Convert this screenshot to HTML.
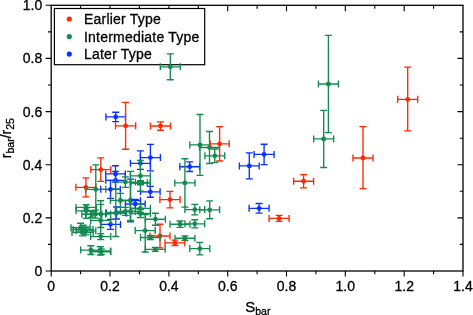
<!DOCTYPE html>
<html><head><meta charset="utf-8"><title>chart</title>
<style>
html,body{margin:0;padding:0;background:#fff;}
body{width:473px;height:315px;overflow:hidden;}
svg{display:block;will-change:transform;}
svg text{font-family:"Liberation Sans",sans-serif;font-size:14px;fill:#000;stroke:#000;stroke-width:0.3px;}
svg .lg text{letter-spacing:0.22px;}
</style></head><body>
<svg width="473" height="315" viewBox="0 0 473 315">
<rect width="473" height="315" fill="#fff"/>
<rect x="51.2" y="5.3" width="411.8" height="265.7" fill="none" stroke="#000" stroke-width="1.3"/>
<path d="M51.2 271.0v5.6M80.6 271.0v3.2M80.6 5.3v3.5M110.0 271.0v5.6M110.0 5.3v6.0M139.4 271.0v3.2M139.4 5.3v3.5M168.9 271.0v5.6M168.9 5.3v6.0M198.3 271.0v3.2M198.3 5.3v3.5M227.7 271.0v5.6M227.7 5.3v6.0M257.1 271.0v3.2M257.1 5.3v3.5M286.5 271.0v5.6M286.5 5.3v6.0M315.9 271.0v3.2M315.9 5.3v3.5M345.3 271.0v5.6M345.3 5.3v6.0M374.8 271.0v3.2M374.8 5.3v3.5M404.2 271.0v5.6M404.2 5.3v6.0M433.6 271.0v3.2M433.6 5.3v3.5M463.0 271.0v5.6M51.2 271.0h-5.6M51.2 244.4h-3.2M463.0 244.4h-3.2M51.2 217.9h-5.6M463.0 217.9h-5.6M51.2 191.3h-3.2M463.0 191.3h-3.2M51.2 164.7h-5.6M463.0 164.7h-5.6M51.2 138.2h-3.2M463.0 138.2h-3.2M51.2 111.6h-5.6M463.0 111.6h-5.6M51.2 85.0h-3.2M463.0 85.0h-3.2M51.2 58.4h-5.6M463.0 58.4h-5.6M51.2 31.9h-3.2M463.0 31.9h-3.2M51.2 5.3h-5.6" stroke="#000" stroke-width="1.1" fill="none"/>
<text x="51.2" y="290.8" text-anchor="middle">0</text>
<text x="110.0" y="290.8" text-anchor="middle">0.2</text>
<text x="168.9" y="290.8" text-anchor="middle">0.4</text>
<text x="227.7" y="290.8" text-anchor="middle">0.6</text>
<text x="286.5" y="290.8" text-anchor="middle">0.8</text>
<text x="345.3" y="290.8" text-anchor="middle">1.0</text>
<text x="404.2" y="290.8" text-anchor="middle">1.2</text>
<text x="463.0" y="290.8" text-anchor="middle">1.4</text>
<text x="42.3" y="276.0" text-anchor="end">0</text>
<text x="42.3" y="222.9" text-anchor="end">0.2</text>
<text x="42.3" y="169.7" text-anchor="end">0.4</text>
<text x="42.3" y="116.6" text-anchor="end">0.6</text>
<text x="42.3" y="63.4" text-anchor="end">0.8</text>
<text x="42.3" y="10.3" text-anchor="end">1.0</text>
<rect x="54.4" y="8.5" width="150.3" height="56.2" fill="#fff" stroke="#000" stroke-width="1.2"/>
<circle cx="69.3" cy="19.0" r="2.6" fill="#ff2800"/><circle cx="69.3" cy="36.6" r="2.6" fill="#128a50"/><circle cx="69.3" cy="54.1" r="2.6" fill="#0a32ff"/>
<g class="lg"><text x="84.0" y="23.8">Earlier Type</text><text x="84.0" y="41.6">Intermediate Type</text><text x="84.0" y="59.4">Later Type</text></g>
<g stroke="#ff2800" fill="#ff2800"><path d="M90.8 169.6H110.8M100.8 157.9V181.3M90.8 166.1V173.1M110.8 166.1V173.1M97.3 157.9H104.3M97.3 181.3H104.3" fill="none" stroke-width="1.35"/><circle cx="100.8" cy="169.6" r="2.4" stroke="none"/></g>
<g stroke="#ff2800" fill="#ff2800"><path d="M75.9 187.3H95.9M85.9 177.8V196.8M75.9 183.8V190.8M95.9 183.8V190.8M82.4 177.8H89.4M82.4 196.8H89.4" fill="none" stroke-width="1.35"/><circle cx="85.9" cy="187.3" r="2.4" stroke="none"/></g>
<g stroke="#ff2800" fill="#ff2800"><path d="M150.0 236.0H170.0M160.0 224.2V247.8M150.0 232.5V239.5M170.0 232.5V239.5M156.5 224.2H163.5M156.5 247.8H163.5" fill="none" stroke-width="1.35"/><circle cx="160.0" cy="236.0" r="2.4" stroke="none"/></g>
<g stroke="#0a32ff" fill="#0a32ff"><path d="M105.9 116.9H125.5M115.7 112.2V121.6M105.9 113.4V120.4M125.5 113.4V120.4M112.2 112.2H119.2M112.2 121.6H119.2" fill="none" stroke-width="1.35"/><circle cx="115.7" cy="116.9" r="2.4" stroke="none"/></g>
<g stroke="#0a32ff" fill="#0a32ff"><path d="M140.4 157.6H160.4M150.4 144.4V170.8M140.4 154.1V161.1M160.4 154.1V161.1M146.9 144.4H153.9M146.9 170.8H153.9" fill="none" stroke-width="1.35"/><circle cx="150.4" cy="157.6" r="2.4" stroke="none"/></g>
<g stroke="#0a32ff" fill="#0a32ff"><path d="M130.4 163.3H150.4M140.4 150.8V169.3M130.4 159.8V166.8M150.4 159.8V166.8M136.9 150.8H143.9M136.9 169.3H143.9" fill="none" stroke-width="1.35"/><circle cx="140.4" cy="163.3" r="2.4" stroke="none"/></g>
<g stroke="#0a32ff" fill="#0a32ff"><path d="M105.7 173.9H125.3M115.5 165.7V182.1M105.7 170.4V177.4M125.3 170.4V177.4M112.0 165.7H119.0M112.0 182.1H119.0" fill="none" stroke-width="1.35"/><circle cx="115.5" cy="173.9" r="2.4" stroke="none"/></g>
<g stroke="#0a32ff" fill="#0a32ff"><path d="M105.8 180.3H125.4M115.6 171.4V189.2M105.8 176.8V183.8M125.4 176.8V183.8M112.1 171.4H119.1M112.1 189.2H119.1" fill="none" stroke-width="1.35"/><circle cx="115.6" cy="180.3" r="2.4" stroke="none"/></g>
<g stroke="#0a32ff" fill="#0a32ff"><path d="M100.7 189.3H120.3M110.5 180.3V198.3M100.7 185.8V192.8M120.3 185.8V192.8M107.0 180.3H114.0M107.0 198.3H114.0" fill="none" stroke-width="1.35"/><circle cx="110.5" cy="189.3" r="2.4" stroke="none"/></g>
<g stroke="#0a32ff" fill="#0a32ff"><path d="M140.5 191.8H160.1M150.3 186.4V197.2M140.5 188.3V195.3M160.1 188.3V195.3M146.8 186.4H153.8M146.8 197.2H153.8" fill="none" stroke-width="1.35"/><circle cx="150.3" cy="191.8" r="2.4" stroke="none"/></g>
<g stroke="#0a32ff" fill="#0a32ff"><path d="M125.4 204.0H145.2M135.3 199.5V208.5M125.4 200.5V207.5M145.2 200.5V207.5M131.8 199.5H138.8M131.8 208.5H138.8" fill="none" stroke-width="1.35"/><circle cx="135.3" cy="204.0" r="2.4" stroke="none"/></g>
<g stroke="#0a32ff" fill="#0a32ff"><path d="M120.5 200.5H140.5M130.5 179.1V221.9M120.5 197.0V204.0M140.5 197.0V204.0M127.0 179.1H134.0M127.0 221.9H134.0" fill="none" stroke-width="1.35"/><circle cx="130.5" cy="200.5" r="2.4" stroke="none"/></g>
<g stroke="#0a32ff" fill="#0a32ff"><path d="M100.5 224.4H120.5M110.5 219.4V229.4M100.5 220.9V227.9M120.5 220.9V227.9M107.0 219.4H114.0M107.0 229.4H114.0" fill="none" stroke-width="1.35"/><circle cx="110.5" cy="224.4" r="2.4" stroke="none"/></g>
<g stroke="#0a32ff" fill="#0a32ff"><path d="M106.5 213.0H126.5M116.5 207.0V219.0M106.5 209.5V216.5M126.5 209.5V216.5M113.0 207.0H120.0M113.0 219.0H120.0" fill="none" stroke-width="1.35"/><circle cx="116.5" cy="213.0" r="2.4" stroke="none"/></g>
<g stroke="#0a32ff" fill="#0a32ff"><path d="M179.8 166.7H199.6M189.7 161.9V171.5M179.8 163.2V170.2M199.6 163.2V170.2M186.2 161.9H193.2M186.2 171.5H193.2" fill="none" stroke-width="1.35"/><circle cx="189.7" cy="166.7" r="2.4" stroke="none"/></g>
<g stroke="#0a32ff" fill="#0a32ff"><path d="M254.1 154.4H274.1M264.1 144.2V164.6M254.1 150.9V157.9M274.1 150.9V157.9M260.6 144.2H267.6M260.6 164.6H267.6" fill="none" stroke-width="1.35"/><circle cx="264.1" cy="154.4" r="2.4" stroke="none"/></g>
<g stroke="#0a32ff" fill="#0a32ff"><path d="M239.4 165.9H259.2M249.3 152.9V178.9M239.4 162.4V169.4M259.2 162.4V169.4M245.8 152.9H252.8M245.8 178.9H252.8" fill="none" stroke-width="1.35"/><circle cx="249.3" cy="165.9" r="2.4" stroke="none"/></g>
<g stroke="#0a32ff" fill="#0a32ff"><path d="M249.1 208.3H269.1M259.1 203.5V213.1M249.1 204.8V211.8M269.1 204.8V211.8M255.6 203.5H262.6M255.6 213.1H262.6" fill="none" stroke-width="1.35"/><circle cx="259.1" cy="208.3" r="2.4" stroke="none"/></g>
<g stroke="#128a50" fill="#128a50"><path d="M160.3 66.8H180.3M170.3 53.9V79.7M160.3 63.3V70.3M180.3 63.3V70.3M166.8 53.9H173.8M166.8 79.7H173.8" fill="none" stroke-width="1.35"/><circle cx="170.3" cy="66.8" r="2.4" stroke="none"/></g>
<g stroke="#128a50" fill="#128a50"><path d="M318.4 84.0H338.4M328.4 35.4V132.6M318.4 80.5V87.5M338.4 80.5V87.5M324.9 35.4H331.9M324.9 132.6H331.9" fill="none" stroke-width="1.35"/><circle cx="328.4" cy="84.0" r="2.4" stroke="none"/></g>
<g stroke="#128a50" fill="#128a50"><path d="M313.7 138.9H333.7M323.7 110.3V167.5M313.7 135.4V142.4M333.7 135.4V142.4M320.2 110.3H327.2M320.2 167.5H327.2" fill="none" stroke-width="1.35"/><circle cx="323.7" cy="138.9" r="2.4" stroke="none"/></g>
<g stroke="#128a50" fill="#128a50"><path d="M189.8 144.9H210.2M200.0 114.5V175.3M189.8 141.4V148.4M210.2 141.4V148.4M196.5 114.5H203.5M196.5 175.3H203.5" fill="none" stroke-width="1.35"/><circle cx="200.0" cy="144.9" r="2.4" stroke="none"/></g>
<g stroke="#128a50" fill="#128a50"><path d="M199.6 147.5H219.4M209.5 131.5V163.5M199.6 144.0V151.0M219.4 144.0V151.0M206.0 131.5H213.0M206.0 163.5H213.0" fill="none" stroke-width="1.35"/><circle cx="209.5" cy="147.5" r="2.4" stroke="none"/></g>
<g stroke="#128a50" fill="#128a50"><path d="M204.9 155.8H224.7M214.8 149.0V162.6M204.9 152.3V159.3M224.7 152.3V159.3M211.3 149.0H218.3M211.3 162.6H218.3" fill="none" stroke-width="1.35"/><circle cx="214.8" cy="155.8" r="2.4" stroke="none"/></g>
<g stroke="#128a50" fill="#128a50"><path d="M174.8 182.9H195.0M184.9 158.7V207.1M174.8 179.4V186.4M195.0 179.4V186.4M181.4 158.7H188.4M181.4 207.1H188.4" fill="none" stroke-width="1.35"/><circle cx="184.9" cy="182.9" r="2.4" stroke="none"/></g>
<g stroke="#128a50" fill="#128a50"><path d="M85.8 189.3H105.8M95.8 164.8V213.8M85.8 185.8V192.8M105.8 185.8V192.8M92.3 164.8H99.3M92.3 213.8H99.3" fill="none" stroke-width="1.35"/><circle cx="95.8" cy="189.3" r="2.4" stroke="none"/></g>
<g stroke="#128a50" fill="#128a50"><path d="M115.4 182.1H135.4M125.4 176.9V187.3M115.4 178.6V185.6M135.4 178.6V185.6M121.9 176.9H128.9M121.9 187.3H128.9" fill="none" stroke-width="1.35"/><circle cx="125.4" cy="182.1" r="2.4" stroke="none"/></g>
<g stroke="#128a50" fill="#128a50"><path d="M130.4 175.8H150.4M140.4 160.4V191.2M130.4 172.3V179.3M150.4 172.3V179.3M136.9 160.4H143.9M136.9 191.2H143.9" fill="none" stroke-width="1.35"/><circle cx="140.4" cy="175.8" r="2.4" stroke="none"/></g>
<g stroke="#128a50" fill="#128a50"><path d="M130.5 182.7H150.3M140.4 180.7V184.7M130.5 179.2V186.2M150.3 179.2V186.2M136.9 180.7H143.9M136.9 184.7H143.9" fill="none" stroke-width="1.35"/><circle cx="140.4" cy="182.7" r="2.4" stroke="none"/></g>
<g stroke="#128a50" fill="#128a50"><path d="M130.5 182.7H147.3M138.9 182.7V182.7M130.5 179.2V186.2M147.3 179.2V186.2M135.4 182.7H142.4M135.4 182.7H142.4" fill="none" stroke-width="1.35"/><circle cx="138.9" cy="182.7" r="2.4" stroke="none"/></g>
<g stroke="#128a50" fill="#128a50"><path d="M130.5 182.7H150.3M141.9 182.7V182.7M130.5 179.2V186.2M150.3 179.2V186.2M138.4 182.7H145.4M138.4 182.7H145.4" fill="none" stroke-width="1.35"/><circle cx="141.9" cy="182.7" r="2.4" stroke="none"/></g>
<g stroke="#128a50" fill="#128a50"><path d="M110.4 200.4H130.4M120.4 193.4V207.4M110.4 196.9V203.9M130.4 196.9V203.9M116.9 193.4H123.9M116.9 207.4H123.9" fill="none" stroke-width="1.35"/><circle cx="120.4" cy="200.4" r="2.4" stroke="none"/></g>
<g stroke="#128a50" fill="#128a50"><path d="M120.5 211.4H140.5M130.5 171.4V220.3M120.5 207.9V214.9M140.5 207.9V214.9M127.0 171.4H134.0M127.0 220.3H134.0" fill="none" stroke-width="1.35"/><circle cx="130.5" cy="211.4" r="2.4" stroke="none"/></g>
<g stroke="#128a50" fill="#128a50"><path d="M115.4 211.4H135.4M125.4 207.4V215.4M115.4 207.9V214.9M135.4 207.9V214.9M121.9 207.4H128.9M121.9 215.4H128.9" fill="none" stroke-width="1.35"/><circle cx="125.4" cy="211.4" r="2.4" stroke="none"/></g>
<g stroke="#128a50" fill="#128a50"><path d="M130.4 208.3H150.4M140.4 204.3V212.3M130.4 204.8V211.8M150.4 204.8V211.8M136.9 204.3H143.9M136.9 212.3H143.9" fill="none" stroke-width="1.35"/><circle cx="140.4" cy="208.3" r="2.4" stroke="none"/></g>
<g stroke="#128a50" fill="#128a50"><path d="M130.4 213.5H150.4M140.4 209.5V217.5M130.4 210.0V217.0M150.4 210.0V217.0M136.9 209.5H143.9M136.9 217.5H143.9" fill="none" stroke-width="1.35"/><circle cx="140.4" cy="213.5" r="2.4" stroke="none"/></g>
<g stroke="#128a50" fill="#128a50"><path d="M105.8 212.8H125.8M115.8 189.1V236.5M105.8 209.3V216.3M125.8 209.3V216.3M112.3 189.1H119.3M112.3 236.5H119.3" fill="none" stroke-width="1.35"/><circle cx="115.8" cy="212.8" r="2.4" stroke="none"/></g>
<g stroke="#128a50" fill="#128a50"><path d="M76.0 207.4H96.4M86.2 204.7V210.1M76.0 203.9V210.9M96.4 203.9V210.9M82.7 204.7H89.7M82.7 210.1H89.7" fill="none" stroke-width="1.35"/><circle cx="86.2" cy="207.4" r="2.4" stroke="none"/></g>
<g stroke="#128a50" fill="#128a50"><path d="M76.0 210.8H96.4M86.2 207.8V218.3M76.0 207.3V214.3M96.4 207.3V214.3M82.7 207.8H89.7M82.7 218.3H89.7" fill="none" stroke-width="1.35"/><circle cx="86.2" cy="210.8" r="2.4" stroke="none"/></g>
<g stroke="#128a50" fill="#128a50"><path d="M85.6 214.1H105.6M95.6 210.1V218.1M85.6 210.6V217.6M105.6 210.6V217.6M92.1 210.1H99.1M92.1 218.1H99.1" fill="none" stroke-width="1.35"/><circle cx="95.6" cy="214.1" r="2.4" stroke="none"/></g>
<g stroke="#128a50" fill="#128a50"><path d="M90.7 214.1H110.7M100.7 200.7V227.5M90.7 210.6V217.6M110.7 210.6V217.6M97.2 200.7H104.2M97.2 227.5H104.2" fill="none" stroke-width="1.35"/><circle cx="100.7" cy="214.1" r="2.4" stroke="none"/></g>
<g stroke="#128a50" fill="#128a50"><path d="M90.7 220.4H110.7M100.7 204.4V236.4M90.7 216.9V223.9M110.7 216.9V223.9M97.2 204.4H104.2M97.2 236.4H104.2" fill="none" stroke-width="1.35"/><circle cx="100.7" cy="220.4" r="2.4" stroke="none"/></g>
<g stroke="#128a50" fill="#128a50"><path d="M71.0 227.7H90.2M80.6 223.2V232.2M71.0 224.2V231.2M90.2 224.2V231.2M77.1 223.2H84.1M77.1 232.2H84.1" fill="none" stroke-width="1.35"/><circle cx="80.6" cy="227.7" r="2.4" stroke="none"/></g>
<g stroke="#128a50" fill="#128a50"><path d="M76.0 230.8H95.8M85.9 226.8V234.8M76.0 227.3V234.3M95.8 227.3V234.3M82.4 226.8H89.4M82.4 234.8H89.4" fill="none" stroke-width="1.35"/><circle cx="85.9" cy="230.8" r="2.4" stroke="none"/></g>
<g stroke="#128a50" fill="#128a50"><path d="M73.4 229.4H93.0M83.2 225.2V233.6M73.4 225.9V232.9M93.0 225.9V232.9M79.7 225.2H86.7M79.7 233.6H86.7" fill="none" stroke-width="1.35"/><circle cx="83.2" cy="229.4" r="2.4" stroke="none"/></g>
<g stroke="#128a50" fill="#128a50"><path d="M72.0 232.4H93.2M82.6 229.0V235.8M72.0 228.9V235.9M93.2 228.9V235.9M79.1 229.0H86.1M79.1 235.8H86.1" fill="none" stroke-width="1.35"/><circle cx="82.6" cy="232.4" r="2.4" stroke="none"/></g>
<g stroke="#128a50" fill="#128a50"><path d="M81.8 214.2H101.8M91.8 211.2V217.2M81.8 210.7V217.7M101.8 210.7V217.7M88.3 211.2H95.3M88.3 217.2H95.3" fill="none" stroke-width="1.35"/><circle cx="91.8" cy="214.2" r="2.4" stroke="none"/></g>
<g stroke="#128a50" fill="#128a50"><path d="M90.6 236.6H110.8M100.7 233.6V239.6M90.6 233.1V240.1M110.8 233.1V240.1M97.2 233.6H104.2M97.2 239.6H104.2" fill="none" stroke-width="1.35"/><circle cx="100.7" cy="236.6" r="2.4" stroke="none"/></g>
<g stroke="#128a50" fill="#128a50"><path d="M80.7 250.1H101.1M90.9 245.7V254.5M80.7 246.6V253.6M101.1 246.6V253.6M87.4 245.7H94.4M87.4 254.5H94.4" fill="none" stroke-width="1.35"/><circle cx="90.9" cy="250.1" r="2.4" stroke="none"/></g>
<g stroke="#128a50" fill="#128a50"><path d="M90.2 250.9H110.4M100.3 246.7V255.1M90.2 247.4V254.4M110.4 247.4V254.4M96.8 246.7H103.8M96.8 255.1H103.8" fill="none" stroke-width="1.35"/><circle cx="100.3" cy="250.9" r="2.4" stroke="none"/></g>
<g stroke="#128a50" fill="#128a50"><path d="M91.7 251.7H110.9M101.3 248.9V254.5M91.7 248.2V255.2M110.9 248.2V255.2M97.8 248.9H104.8M97.8 254.5H104.8" fill="none" stroke-width="1.35"/><circle cx="101.3" cy="251.7" r="2.4" stroke="none"/></g>
<g stroke="#128a50" fill="#128a50"><path d="M145.4 219.2H165.4M155.4 213.2V225.2M145.4 215.7V222.7M165.4 215.7V222.7M151.9 213.2H158.9M151.9 225.2H158.9" fill="none" stroke-width="1.35"/><circle cx="155.4" cy="219.2" r="2.4" stroke="none"/></g>
<g stroke="#128a50" fill="#128a50"><path d="M135.2 230.6H155.2M145.2 214.6V252.0M135.2 227.1V234.1M155.2 227.1V234.1M141.7 214.6H148.7M141.7 252.0H148.7" fill="none" stroke-width="1.35"/><circle cx="145.2" cy="230.6" r="2.4" stroke="none"/></g>
<g stroke="#128a50" fill="#128a50"><path d="M140.5 237.5H160.1M150.3 235.5V239.5M140.5 234.0V241.0M160.1 234.0V241.0M146.8 235.5H153.8M146.8 239.5H153.8" fill="none" stroke-width="1.35"/><circle cx="150.3" cy="237.5" r="2.4" stroke="none"/></g>
<g stroke="#128a50" fill="#128a50"><path d="M145.4 249.3H165.2M155.3 247.3V251.3M145.4 245.8V252.8M165.2 245.8V252.8M151.8 247.3H158.8M151.8 251.3H158.8" fill="none" stroke-width="1.35"/><circle cx="155.3" cy="249.3" r="2.4" stroke="none"/></g>
<g stroke="#128a50" fill="#128a50"><path d="M184.9 209.6H204.7M194.8 204.3V214.9M184.9 206.1V213.1M204.7 206.1V213.1M191.3 204.3H198.3M191.3 214.9H198.3" fill="none" stroke-width="1.35"/><circle cx="194.8" cy="209.6" r="2.4" stroke="none"/></g>
<g stroke="#128a50" fill="#128a50"><path d="M199.8 209.8H219.6M209.7 200.9V218.7M199.8 206.3V213.3M219.6 206.3V213.3M206.2 200.9H213.2M206.2 218.7H213.2" fill="none" stroke-width="1.35"/><circle cx="209.7" cy="209.8" r="2.4" stroke="none"/></g>
<g stroke="#128a50" fill="#128a50"><path d="M170.0 224.2H190.0M180.0 221.0V227.4M170.0 220.7V227.7M190.0 220.7V227.7M176.5 221.0H183.5M176.5 227.4H183.5" fill="none" stroke-width="1.35"/><circle cx="180.0" cy="224.2" r="2.4" stroke="none"/></g>
<g stroke="#128a50" fill="#128a50"><path d="M184.9 223.8H204.7M194.8 219.7V227.9M184.9 220.3V227.3M204.7 220.3V227.3M191.3 219.7H198.3M191.3 227.9H198.3" fill="none" stroke-width="1.35"/><circle cx="194.8" cy="223.8" r="2.4" stroke="none"/></g>
<g stroke="#128a50" fill="#128a50"><path d="M174.9 238.2H194.9M184.9 235.9V240.5M174.9 234.7V241.7M194.9 234.7V241.7M181.4 235.9H188.4M181.4 240.5H188.4" fill="none" stroke-width="1.35"/><circle cx="184.9" cy="238.2" r="2.4" stroke="none"/></g>
<g stroke="#128a50" fill="#128a50"><path d="M189.8 248.6H209.8M199.8 242.4V254.8M189.8 245.1V252.1M209.8 245.1V252.1M196.3 242.4H203.3M196.3 254.8H203.3" fill="none" stroke-width="1.35"/><circle cx="199.8" cy="248.6" r="2.4" stroke="none"/></g>
<g stroke="#ff2800" fill="#ff2800"><path d="M115.5 125.8H135.7M125.6 102.4V149.2M115.5 122.3V129.3M135.7 122.3V129.3M122.1 102.4H129.1M122.1 149.2H129.1" fill="none" stroke-width="1.35"/><circle cx="125.6" cy="125.8" r="2.4" stroke="none"/></g>
<g stroke="#ff2800" fill="#ff2800"><path d="M150.4 126.0H170.6M160.5 121.8V130.2M150.4 122.5V129.5M170.6 122.5V129.5M157.0 121.8H164.0M157.0 130.2H164.0" fill="none" stroke-width="1.35"/><circle cx="160.5" cy="126.0" r="2.4" stroke="none"/></g>
<g stroke="#ff2800" fill="#ff2800"><path d="M210.0 143.8H229.2M219.6 126.6V161.0M210.0 140.3V147.3M229.2 140.3V147.3M216.1 126.6H223.1M216.1 161.0H223.1" fill="none" stroke-width="1.35"/><circle cx="219.6" cy="143.8" r="2.4" stroke="none"/></g>
<g stroke="#ff2800" fill="#ff2800"><path d="M159.9 199.6H180.1M170.0 191.3V207.9M159.9 196.1V203.1M180.1 196.1V203.1M166.5 191.3H173.5M166.5 207.9H173.5" fill="none" stroke-width="1.35"/><circle cx="170.0" cy="199.6" r="2.4" stroke="none"/></g>
<g stroke="#ff2800" fill="#ff2800"><path d="M165.0 242.8H184.8M174.9 240.1V245.5M165.0 239.3V246.3M184.8 239.3V246.3M171.4 240.1H178.4M171.4 245.5H178.4" fill="none" stroke-width="1.35"/><circle cx="174.9" cy="242.8" r="2.4" stroke="none"/></g>
<g stroke="#ff2800" fill="#ff2800"><path d="M269.1 218.4H289.1M279.1 215.4V221.4M269.1 214.9V221.9M289.1 214.9V221.9M275.6 215.4H282.6M275.6 221.4H282.6" fill="none" stroke-width="1.35"/><circle cx="279.1" cy="218.4" r="2.4" stroke="none"/></g>
<g stroke="#ff2800" fill="#ff2800"><path d="M293.6 181.2H313.6M303.6 174.6V187.8M293.6 177.7V184.7M313.6 177.7V184.7M300.1 174.6H307.1M300.1 187.8H307.1" fill="none" stroke-width="1.35"/><circle cx="303.6" cy="181.2" r="2.4" stroke="none"/></g>
<g stroke="#ff2800" fill="#ff2800"><path d="M353.0 158.0H373.0M363.0 126.6V188.6M353.0 154.5V161.5M373.0 154.5V161.5M359.5 126.6H366.5M359.5 188.6H366.5" fill="none" stroke-width="1.35"/><circle cx="363.0" cy="158.0" r="2.4" stroke="none"/></g>
<g stroke="#ff2800" fill="#ff2800"><path d="M397.7 99.3H417.7M407.7 67.1V130.9M397.7 95.8V102.8M417.7 95.8V102.8M404.2 67.1H411.2M404.2 130.9H411.2" fill="none" stroke-width="1.35"/><circle cx="407.7" cy="99.3" r="2.4" stroke="none"/></g>
<text x="245.2" y="312.4" style="font-size:15px">S<tspan dy="2.2" style="font-size:10.5px">bar</tspan></text>
<text transform="translate(11.4,158.2) rotate(-90)" style="font-size:14px">r<tspan dy="3" style="font-size:10.5px">bar</tspan><tspan dy="-3" style="font-size:14px">/r</tspan><tspan dy="3" style="font-size:10.5px">25</tspan></text>
</svg>
</body></html>
